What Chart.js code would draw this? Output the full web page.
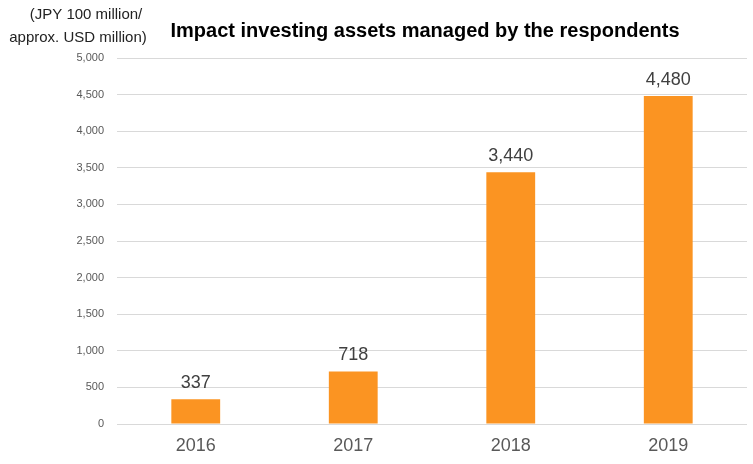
<!DOCTYPE html>
<html>
<head>
<meta charset="utf-8">
<script src="https://cdn.jsdelivr.net/npm/chart.js@4.4.1/dist/chart.umd.min.js"></script>
<style>
  html, body { margin: 0; padding: 0; background: #fff; }
</style>
</head>
<body>
<canvas id="chart" width="753" height="464"></canvas>
<script>
// Impact investing assets (JPY 100 million)
const years = ['2016', '2017', '2018', '2019'];
const assets = [337, 718, 3440, 4480];
const yTicks = [0, 500, 1000, 1500, 2000, 2500, 3000, 3500, 4000, 4500, 5000];

const ORANGE = '#fb9422';
const FONT = 'Liberation Sans, Arial, sans-serif';

// title, unit label and value labels drawn on the canvas
const textPlugin = {
  id: 'texts',
  afterDatasetsDraw(chart) {
    const ctx = chart.ctx;
    ctx.save();
    ctx.fillStyle = '#000';
    ctx.font = `bold 20px ${FONT}`;
    ctx.textAlign = 'center';
    ctx.textBaseline = 'middle';
    ctx.fillText('Impact investing assets managed by the respondents', 425, 31);

    ctx.font = `15px ${FONT}`;
    ctx.fillStyle = '#222';
    ctx.fillText('(JPY 100 million/', 86, 15);
    ctx.fillText('approx. USD million)', 78, 38);

    ctx.font = `18px ${FONT}`;
    ctx.fillStyle = '#404040';
    ctx.textBaseline = 'bottom';
    const meta = chart.getDatasetMeta(0);
    meta.data.forEach((bar, i) => {
      ctx.fillText(assets[i].toLocaleString('en-US'), bar.x, bar.y - 7);
    });
    ctx.restore();
  }
};

new Chart(document.getElementById('chart'), {
  type: 'bar',
  data: {
    labels: years,
    datasets: [{ data: assets, backgroundColor: ORANGE, borderWidth: 0, barPercentage: 0.62, categoryPercentage: 0.5 }]
  },
  options: {
    responsive: false,
    animation: false,
    devicePixelRatio: 1,
    layout: { padding: { top: 58, right: 6, left: 0, bottom: 0 } },
    plugins: { legend: { display: false }, tooltip: { enabled: false } },
    scales: {
      x: {
        grid: { display: false },
        border: { display: false },
        ticks: { color: '#595959', font: { family: FONT, size: 18 }, padding: 3 },
        afterFit(s) { s.height = 40; }
      },
      y: {
        min: 0, max: 5000,
        afterBuildTicks(s) { s.ticks = yTicks.map(v => ({ value: v })); },
        grid: { color: '#d9d9d9', drawTicks: false },
        border: { display: false },
        ticks: {
          color: '#595959', font: { family: FONT, size: 11 }, padding: 13, autoSkip: false,
          callback: v => v.toLocaleString('en-US')
        },
        afterFit(s) { s.width = 117; }
      }
    }
  },
  plugins: [textPlugin]
});
</script>
</body>
</html>
